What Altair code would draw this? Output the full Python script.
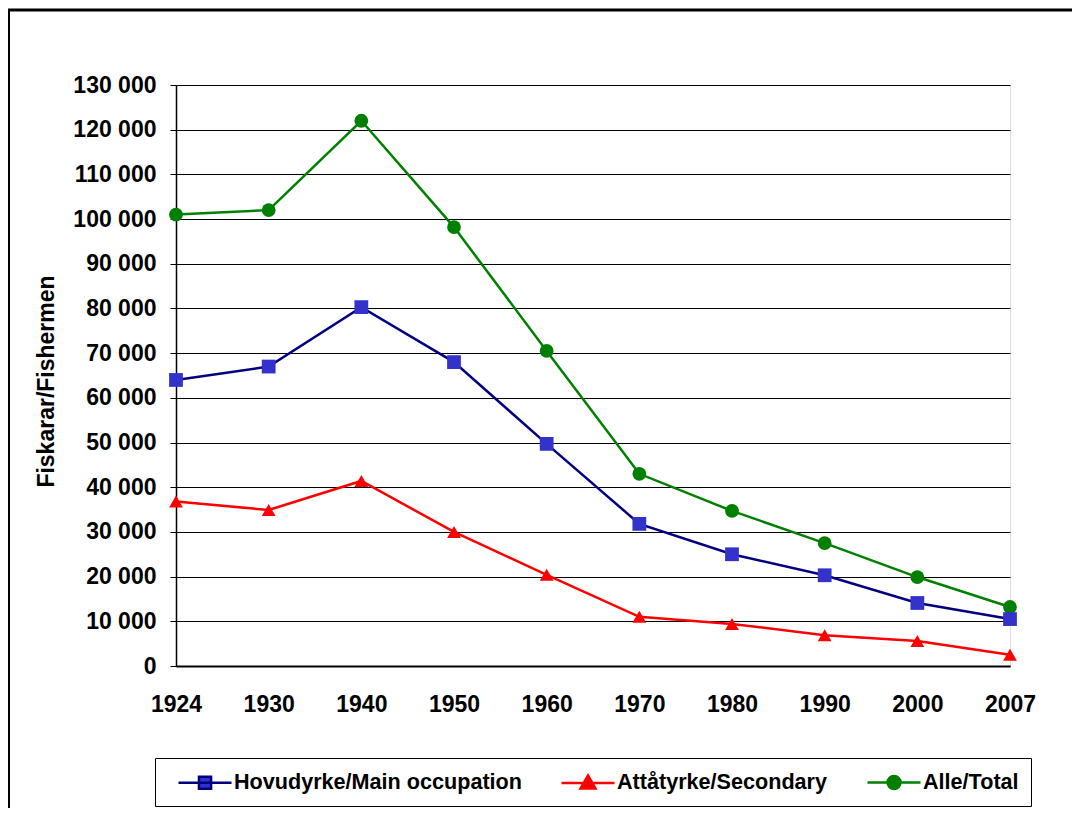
import altair as alt
import pandas as pd

years = ["1924", "1930", "1940", "1950", "1960", "1970", "1980", "1990", "2000", "2007"]
main_occ = [64000, 67000, 80300, 68000, 49700, 31800, 25000, 20300, 14100, 10500]
secondary = [36800, 34900, 41400, 30000, 20400, 11000, 9400, 6900, 5600, 2500]
total = [101000, 102000, 122000, 98200, 70500, 43000, 34700, 27500, 19900, 13200]

s_main = "Hovudyrke/Main occupation"
s_sec = "Attåtyrke/Secondary"
s_tot = "Alle/Total"
series_order = [s_main, s_sec, s_tot]

rows = []
for name, vals, k in [(s_tot, total, 0), (s_sec, secondary, 1), (s_main, main_occ, 2)]:
    for y, v in zip(years, vals):
        rows.append({"year": y, "value": v, "series": name, "z": k})
df = pd.DataFrame(rows)

FONT = "Liberation Sans"
line_colors = ["#000080", "#FF0000", "#008000"]
fill_colors = ["#3333CC", "#FF0000", "#008000"]

x_enc = alt.X("year:O", sort=years, scale=alt.Scale(padding=0, paddingInner=0, paddingOuter=0),
              axis=alt.Axis(title=None, labelAngle=0, ticks=False, labelPadding=27,
                            labelFontSize=23, labelFont=FONT, labelFontWeight="bold",
                            labelColor="#000000", domainColor="#000000", domainWidth=2,
                            grid=False))
y_enc = alt.Y("value:Q", scale=alt.Scale(domain=[0, 130000], nice=False),
              axis=alt.Axis(title="Fiskarar/Fishermen", values=list(range(0, 130001, 10000)),
                            labelExpr="replace(format(datum.value, ','), regexp(',', 'g'), ' ')",
                            labelFontSize=23, labelFont=FONT, labelFontWeight="bold",
                            labelColor="#000000", labelPadding=14, tickSize=6,
                            tickColor="#000000", domainColor="#000000", domainWidth=1.5,
                            gridColor="#000000", gridWidth=1, gridOpacity=1,
                            titleFontSize=23, titleFont=FONT, titleFontWeight="bold",
                            titleColor="#000000", titleAngle=270, titleAlign="center",
                            titleBaseline="middle", titleX=-130, titleY=296))

base = alt.Chart(df)

lines = base.mark_line(strokeWidth=2.5).encode(
    x=x_enc, y=y_enc,
    stroke=alt.Stroke("series:N", scale=alt.Scale(domain=series_order, range=line_colors), legend=None),
    detail="series:N",
)

points = base.mark_point(filled=True, opacity=1, size=190, strokeWidth=0).encode(
    x=x_enc, y=y_enc,
    fill=alt.Fill("series:N", scale=alt.Scale(domain=series_order, range=fill_colors), legend=None),
    shape=alt.Shape("series:N", scale=alt.Scale(domain=series_order,
                                                range=["square", "triangle-up", "circle"]),
                    legend=None),
    order=alt.Order("z:Q"),
)

# legend symbols: a line with the marker in its middle (units of 11 px)
sq = "M-0.09,0H4.73M1.77,-0.55H2.87V0.55H1.77Z"
tri = "M-0.09,0H4.73M2.32,-0.68L3.0,0.5H1.64Z"
cir = "M-0.09,0H4.73M1.73,0A0.59,0.59 0 1,0 2.91,0A0.59,0.59 0 1,0 1.73,0Z"

legend_layer = base.transform_filter("false").mark_point(
    filled=True, opacity=1, strokeWidth=2.5
).encode(
    x=x_enc, y=y_enc,
    fill=alt.Fill("series:N", scale=alt.Scale(domain=series_order, range=fill_colors),
                  legend=alt.Legend(
                      title=None, orient="none", direction="horizontal",
                      legendX=-21, legendY=673,
                      strokeColor="#000000", fillColor="#FFFFFF", padding=12,
                      columnPadding=28, labelFontSize=21.6, labelFont=FONT,
                      labelFontWeight="bold", labelColor="#000000", labelOffset=42,
                      labelLimit=0, symbolSize=484, symbolStrokeWidth=2.5,
                      symbolOpacity=1)),
    stroke=alt.Stroke("series:N", scale=alt.Scale(domain=series_order, range=line_colors)),
    shape=alt.Shape("series:N", scale=alt.Scale(domain=series_order, range=[sq, tri, cir])),
)

frame_df = pd.DataFrame({"k": [0]})
frame = alt.Chart(frame_df).mark_rect(fill=None, stroke="#000000", strokeWidth=3).encode(
    x=alt.value(-167.5), y=alt.value(-75), x2=alt.value(1000), y2=alt.value(800)
)

chart = alt.layer(frame, lines, points, legend_layer).resolve_scale(
    shape="independent", fill="independent", stroke="independent"
).resolve_legend(
    shape="independent", fill="independent", stroke="independent"
).properties(
    width=834, height=581,
    autosize=alt.AutoSizeParams(type="none"),
    padding={"left": 168, "top": 77, "right": 62, "bottom": 142},
).configure_view(stroke="#808080", strokeWidth=1.5).configure(background="#FFFFFF")

chart.save("out.html", embed_options={"renderer": "svg", "actions": False})
